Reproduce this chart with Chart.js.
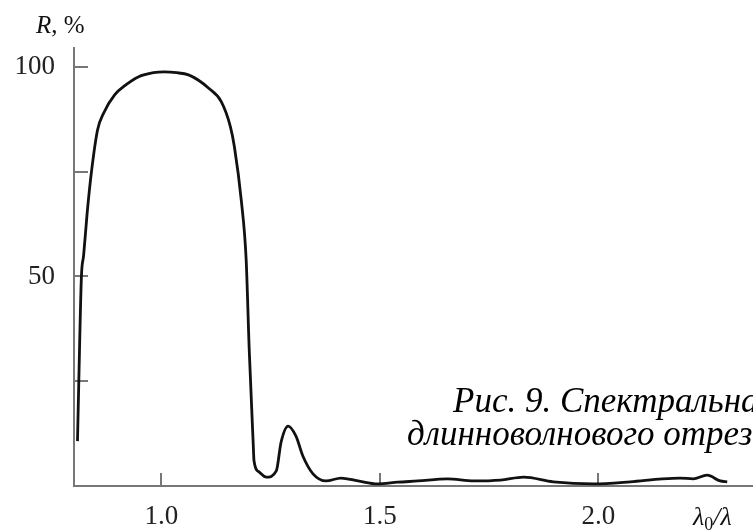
<!DOCTYPE html>
<html>
<head>
<meta charset="utf-8">
<script src="https://cdn.jsdelivr.net/npm/chart.js@4"></script>
<style>
  html, body { margin: 0; padding: 0; background: #fff; }
  #wrap { width: 753px; height: 530px; }
</style>
</head>
<body>
<div id="wrap"><canvas id="spectrum"></canvas></div>
<script>
// wavelength ratio (λ0/λ) and reflectance R, %
const ratio = [0.808, 0.811, 0.817, 0.822, 0.830, 0.840, 0.854, 0.868, 0.893, 0.920,
               0.947, 0.982, 1.007, 1.035, 1.062, 1.085, 1.107, 1.137, 1.158, 1.167,
               1.183, 1.194, 1.201, 1.210, 1.212, 1.224, 1.240, 1.263, 1.274, 1.290,
               1.308, 1.324, 1.347, 1.377, 1.411, 1.450, 1.495, 1.541, 1.587, 1.655,
               1.715, 1.776, 1.829, 1.897, 1.989, 2.073, 2.146, 2.187, 2.217, 2.249,
               2.279, 2.295];
const reflect = [10.7, 25, 50, 55, 65, 75, 85, 89, 93.3, 95.8,
                 97.6, 98.6, 98.8, 98.6, 98.1, 96.8, 95, 91.7, 85.7, 81,
                 68, 54, 32.6, 10.5, 6, 3.3, 2.1, 3.6, 10.5, 14.3,
                 11.9, 7.1, 2.9, 1.2, 1.9, 1.2, 0.5, 0.9, 1.2, 1.7,
                 1.2, 1.4, 2.1, 1.0, 0.5, 1.0, 1.7, 1.9, 1.7, 2.6,
                 1.2, 1.0];

const xTicks = [1.0, 1.5, 2.0];
const yTicks = [25, 50, 75, 100];
const yLabeled = [50, 100];

const serif = "'Liberation Serif', 'DejaVu Serif', serif";
const axisColor = '#777';

// inward tick marks + loose text (axis names, caption)
const decor = {
  id: 'decor',
  beforeDatasetsDraw(chart) {
    const { ctx, scales: { x, y } } = chart;
    ctx.save();
    ctx.strokeStyle = axisColor;
    ctx.lineWidth = 2;
    yTicks.forEach(v => {
      const py = Math.round(y.getPixelForValue(v));
      ctx.beginPath();
      ctx.moveTo(x.left, py);
      ctx.lineTo(x.left + 14, py);
      ctx.stroke();
    });
    xTicks.forEach(v => {
      const px = Math.round(x.getPixelForValue(v));
      ctx.beginPath();
      ctx.moveTo(px, y.bottom);
      ctx.lineTo(px, y.bottom - 13);
      ctx.stroke();
    });
    ctx.restore();
  },
  afterDraw(chart) {
    const ctx = chart.ctx;
    ctx.save();
    ctx.fillStyle = '#111';
    ctx.textBaseline = 'alphabetic';
    ctx.textAlign = 'left';

    // y axis name
    ctx.font = 'italic 25px ' + serif;
    ctx.fillText('R', 36, 33);
    let w = ctx.measureText('R').width;
    ctx.font = '25px ' + serif;
    ctx.fillText(', %', 36 + w, 33);

    // x axis name
    let xx = 693;
    ctx.font = 'italic 26px ' + serif;
    ctx.fillText('λ', xx, 525);
    xx += ctx.measureText('λ').width;
    ctx.font = '18px ' + serif;
    ctx.fillText('0', xx, 530);
    xx += ctx.measureText('0').width;
    ctx.font = 'italic 26px ' + serif;
    ctx.fillText('/λ', xx, 525);

    // caption (runs off the right edge as in the scan)
    ctx.fillStyle = '#000';
    ctx.font = 'italic 35px ' + serif;
    ctx.fillText('Рис. 9. Спектральная', 453, 412);
    ctx.fillText('длинноволнового отрезающего', 407, 445);
    ctx.restore();
  }
};

const ctx = document.getElementById('spectrum').getContext('2d');
new Chart(ctx, {
  type: 'line',
  data: {
    datasets: [{
      data: ratio.map((r, i) => ({ x: r, y: reflect[i] })),
      borderColor: '#111',
      borderWidth: 2.8,
      pointRadius: 0,
      fill: false,
      cubicInterpolationMode: 'monotone'
    }]
  },
  options: {
    responsive: true,
    maintainAspectRatio: false,
    animation: false,
    layout: { padding: { top: 48, right: 0, left: 0, bottom: 0 } },
    plugins: { legend: { display: false }, tooltip: { enabled: false } },
    scales: {
      x: {
        type: 'linear',
        min: 0.8,
        max: 2.354,
        afterBuildTicks: s => { s.ticks = xTicks.map(v => ({ value: v })); },
        afterFit: s => { s.height = 44; },
        grid: { display: false, drawTicks: false },
        border: { display: true, color: axisColor, width: 2 },
        ticks: {
          padding: 15,
          color: '#222',
          font: { family: serif, size: 27 },
          maxRotation: 0,
          callback: v => v.toFixed(1)
        }
      },
      y: {
        min: 0,
        max: 104.5,
        afterBuildTicks: s => { s.ticks = yTicks.map(v => ({ value: v })); },
        afterFit: s => { s.width = 74; },
        grid: { display: false, drawTicks: false },
        border: { display: true, color: axisColor, width: 2 },
        ticks: {
          padding: 19,
          color: '#222',
          font: { family: serif, size: 27 },
          callback: v => yLabeled.includes(v) ? String(v) : ''
        }
      }
    }
  },
  plugins: [decor]
});
</script>
</body>
</html>
